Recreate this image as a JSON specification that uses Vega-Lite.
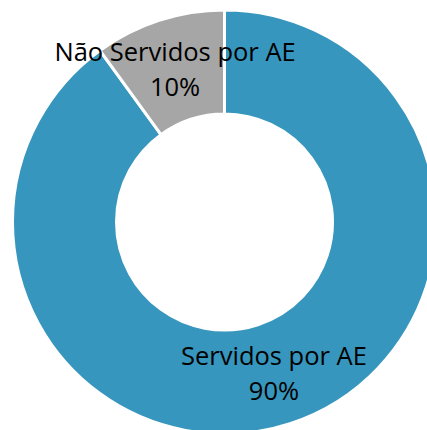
{
  "$schema": "https://vega.github.io/schema/vega-lite/v6.json",
  "width": 449,
  "height": 444,
  "autosize": {"type": "none"},
  "padding": {"left": 0, "top": 0, "right": -22, "bottom": -14},
  "background": "white",
  "view": {"stroke": null},
  "data": {
    "values": [
      {"categoria": "Servidos por AE", "pct": 90, "ordem": 1, "rotulo": "Servidos por AE\n90%"},
      {"categoria": "Não Servidos por AE", "pct": 10, "ordem": 2, "rotulo": "Não Servidos por AE\n10%"}
    ]
  },
  "encoding": {
    "theta": {"field": "pct", "type": "quantitative", "stack": true},
    "order": {"field": "ordem", "type": "quantitative"}
  },
  "layer": [
    {
      "mark": {"type": "arc", "innerRadius": 108, "outerRadius": 212, "stroke": "white", "strokeWidth": 3},
      "encoding": {
        "color": {
          "field": "categoria",
          "type": "nominal",
          "scale": {"domain": ["Servidos por AE", "Não Servidos por AE"], "range": ["#3796bd", "#a6a6a6"]},
          "legend": null
        }
      }
    },
    {
      "mark": {"type": "text", "radius": 160, "fontSize": 25.5, "lineBreak": "\n", "lineHeight": 35, "dy": -17, "font": "Open Sans", "color": "black", "baseline": "middle", "align": "center"},
      "encoding": {"text": {"field": "rotulo", "type": "nominal"}}
    }
  ]
}
